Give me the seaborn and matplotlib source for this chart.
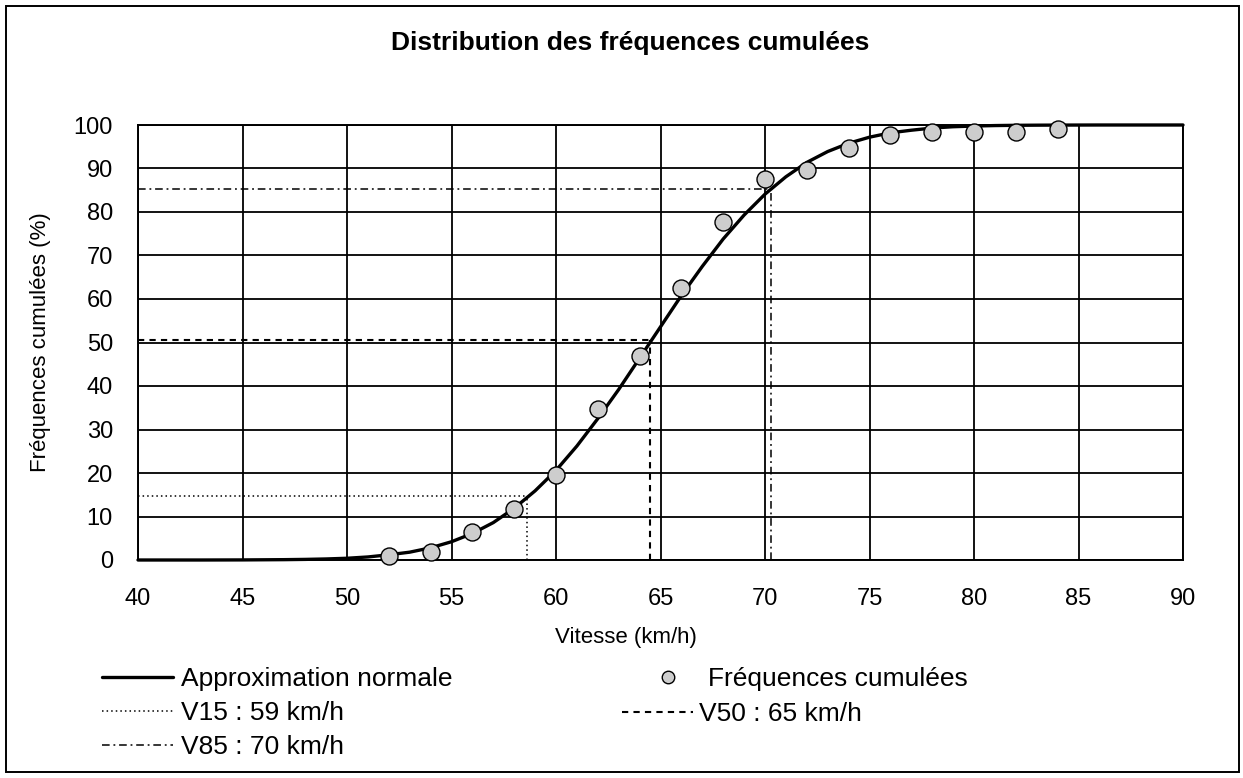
import numpy as np
import pandas as pd
import matplotlib
matplotlib.use("Agg")
import matplotlib.pyplot as plt
from matplotlib.lines import Line2D
from matplotlib.patches import Rectangle
import seaborn as sns

# Données
vitesse_obs = [52, 54, 56, 58, 60, 62, 64, 66, 68, 70, 72, 74, 76, 78, 80, 82, 84]
freq_cum_obs = [1.0, 1.8, 6.5, 11.7, 19.5, 34.8, 46.8, 62.5, 77.6, 87.7,
                89.6, 94.6, 97.6, 98.4, 98.5, 98.3, 99.0]

# Courbe "Approximation normale" (lue tous les 1 km/h)
vitesse_courbe = list(range(40, 91))
freq_courbe = [0.0, 0.0, 0.0, 0.0, 0.01, 0.02, 0.05, 0.08, 0.14, 0.24,
               0.4, 0.7, 1.2, 1.8, 2.8, 4.2, 6.1, 8.6, 11.9, 15.9,
               20.6, 26.2, 32.5, 39.2, 46.4, 53.6, 60.8, 67.5, 73.8, 79.3,
               84.1, 88.1, 91.4, 93.9, 95.8, 97.2, 98.2, 98.8, 99.3, 99.6,
               99.76, 99.87, 99.93, 99.96, 99.98, 99.99, 100.0, 100.0, 100.0, 100.0,
               100.0]

# Vitesses caractéristiques : (vitesse, fréquence)
v15 = (58.6, 14.8)
v50 = (64.5, 50.6)
v85 = (70.3, 85.3)

x_ticks = list(range(40, 95, 5))
y_ticks = list(range(0, 110, 10))

TITLE = "Distribution des fréquences cumulées"
XLABEL = "Vitesse (km/h)"
YLABEL = "Fréquences cumulées (%)"

sns.set_theme(style="white")
plt.rcParams['font.family'] = ['Liberation Sans', 'DejaVu Sans']
plt.rcParams.update({
    'text.color': 'black',
    'axes.labelcolor': 'black',
    'xtick.color': 'black',
    'ytick.color': 'black',
})

W, H = 1243, 778
fig = plt.figure(figsize=(W / 100, H / 100), dpi=100)
fig.patch.set_facecolor('white')
ax = fig.add_axes([138 / W, 1 - 560 / H, 1045 / W, 435 / H])

# Cadre extérieur
fig.patches.append(Rectangle((6 / W, 6 / H), 1233 / W, 766 / H, transform=fig.transFigure,
                             fill=False, edgecolor='black', linewidth=1.4, zorder=0))

df_courbe = pd.DataFrame({'v': vitesse_courbe, 'f': freq_courbe})
df_obs = pd.DataFrame({'v': vitesse_obs, 'f': freq_cum_obs})

# Lignes V15 / V50 / V85
styles = {
    'v15': dict(color='black', lw=1.1, dashes=(1, 2)),
    'v50': dict(color='black', lw=1.5, dashes=(3, 2.5)),
    'v85': dict(color='black', lw=1.1, dashes=(5, 2.5, 1.2, 2.5)),
}
for key, (vx, vy) in zip(['v15', 'v50', 'v85'], [v15, v50, v85]):
    ax.plot([40, vx], [vy, vy], zorder=3, **styles[key])
    ax.plot([vx, vx], [0, vy], zorder=3, **styles[key])

sns.lineplot(data=df_courbe, x='v', y='f', ax=ax, color='black', linewidth=2.4,
             legend=False, zorder=4, clip_on=False)
sns.scatterplot(data=df_obs, x='v', y='f', ax=ax, color='#cdcdcd', edgecolor='black',
                linewidth=1.0, s=150, legend=False, zorder=5, clip_on=False)

ax.set_xlim(40, 90)
ax.set_ylim(0, 100)
ax.set_xticks(x_ticks)
ax.set_yticks(y_ticks)
ax.grid(True, color='black', linewidth=1.3)
ax.set_axisbelow(True)
for s in ax.spines.values():
    s.set_color('black')
    s.set_linewidth(1.4)
ax.tick_params(axis='both', direction='out', length=13, width=0.8, color='#555555',
               labelsize=17, labelcolor='black')
ax.tick_params(axis='y', pad=5)
ax.tick_params(axis='x', pad=7)

ax.set_xlabel(XLABEL, fontsize=16)
ax.set_ylabel(YLABEL, fontsize=16)
ax.xaxis.set_label_coords(0.467, -0.155)
ax.yaxis.set_label_coords(-0.083, 0.50)

fig.text(630 / W, 1 - 43 / H, TITLE, ha='center', va='center', fontsize=19, fontweight='bold')

# Légende
h_approx = Line2D([], [], color='black', lw=2.4)
h_v15 = Line2D([], [], **styles['v15'])
h_v50 = Line2D([], [], **styles['v50'])
h_v85 = Line2D([], [], **styles['v85'])
h_obs = Line2D([], [], ls='none', marker='o', markersize=9, markerfacecolor='#cdcdcd',
               markeredgecolor='black', markeredgewidth=1.0)

leg_kw = dict(loc='upper left', bbox_transform=fig.transFigure, frameon=False, borderpad=0,
              borderaxespad=0, fontsize=19, labelspacing=0.38)
fig.legend([h_approx, h_v15, h_v85], ["Approximation normale", "V15 : 59 km/h", "V85 : 70 km/h"],
           bbox_to_anchor=(102 / W, 1 - 667 / H), handlelength=2.7, handletextpad=0.28, **leg_kw)
fig.legend([h_obs], ["Fréquences cumulées"],
           bbox_to_anchor=(655 / W, 1 - 667 / H), handlelength=1.0, handletextpad=1.0, **leg_kw)
fig.legend([h_v50], ["V50 : 65 km/h"],
           bbox_to_anchor=(622 / W, 1 - 702 / H), handlelength=2.7, handletextpad=0.2, **leg_kw)

fig.savefig("out.png", dpi=100)
